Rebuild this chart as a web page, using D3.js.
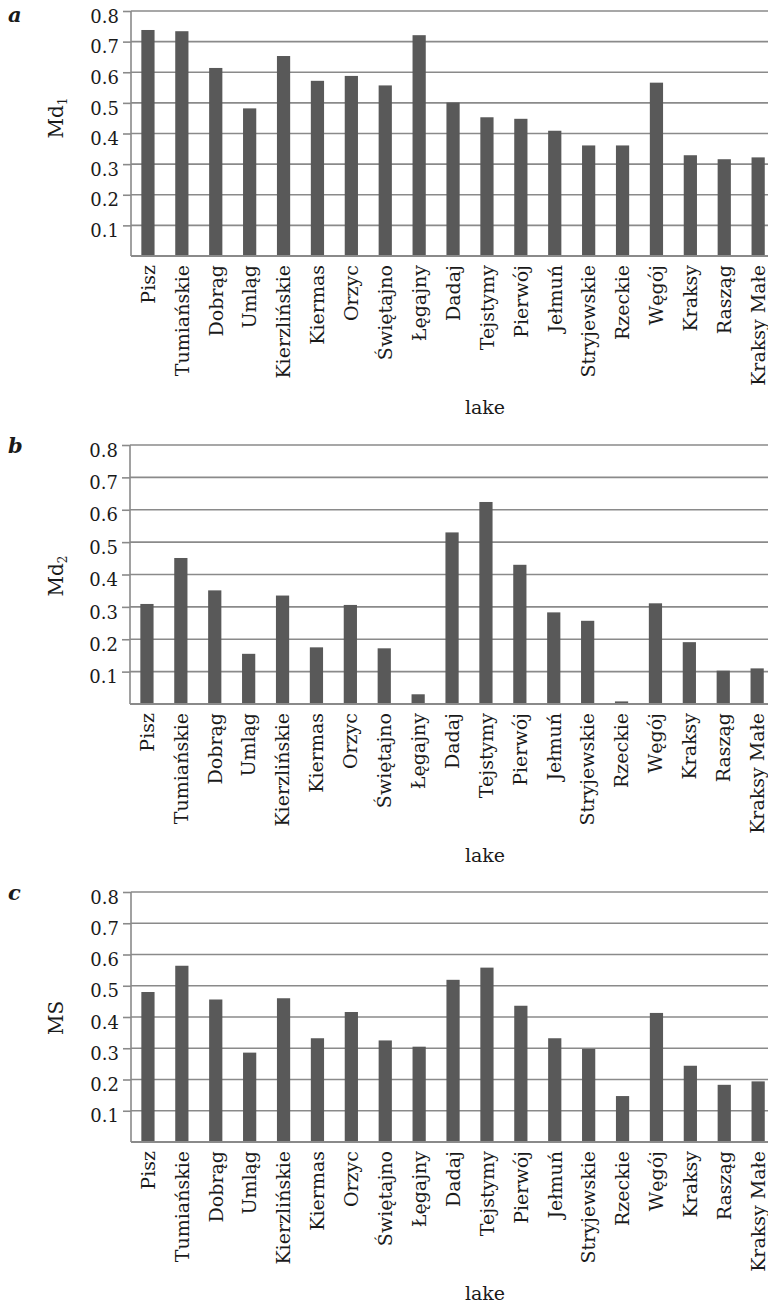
<!DOCTYPE html>
<html>
<head>
<meta http-equiv="Content-type" content="text/html; charset=utf-8">
<title>lakes</title>
<script src="https://cdn.jsdelivr.net/npm/d3@7"></script>
<style>
  body { margin:0; background:#fff; }
  text { font-family:"DejaVu Serif", serif; fill:#1a1a1a; }
</style>
</head>
<body>
<script type="text/javascript">

// lakes on the x axis (same order in all three panels)
var lakes = ["Pisz","Tumiańskie","Dobrąg","Umląg","Kierzlińskie","Kiermas","Orzyc",
  "Świętajno","Łęgajny","Dadaj","Tejstymy","Pierwój","Jełmuń","Stryjewskie",
  "Rzeckie","Węgój","Kraksy","Rasząg","Kraksy Małe"];

var md1 = [0.738,0.734,0.614,0.482,0.653,0.572,0.588,0.557,0.721,0.501,
  0.453,0.448,0.409,0.361,0.361,0.566,0.329,0.316,0.322];

var md2 = [0.309,0.451,0.351,0.155,0.335,0.175,0.306,0.172,0.030,0.530,
  0.624,0.430,0.283,0.257,0.008,0.311,0.191,0.103,0.110];

var ms = [0.480,0.564,0.456,0.286,0.460,0.332,0.416,0.325,0.305,0.519,
  0.558,0.436,0.332,0.298,0.147,0.413,0.244,0.183,0.194];

var yTicks = [0.1,0.2,0.3,0.4,0.5,0.6,0.7,0.8];

var W = 768, H = 1309;
var bar_color = "#595959";
var grid_color = "#8a8a8a";

var panels = [
  {letter:"a", title:"Md", sub:"1", vals:md1, top:11,  bottom:256,  left:131, titleY:118},
  {letter:"b", title:"Md", sub:"2", vals:md2, top:445, bottom:704,  left:130, titleY:576},
  {letter:"c", title:"MS", sub:null, vals:ms, top:892, bottom:1142, left:131, titleY:1018}
];

var svg = d3.select("body").append("svg")
  .attr("width", W).attr("height", H);

panels.forEach(function (p) {
  var x = d3.scaleBand().domain(lakes).range([p.left, p.left + 19*33.9]).paddingInner(0.61).paddingOuter(0.305);
  var y = d3.scaleLinear().domain([0, 0.8]).range([p.bottom, p.top]);
  var g = svg.append("g");

  // gridlines
  g.selectAll(".grid").data(yTicks).enter().append("line")
    .attr("x1", p.left).attr("x2", W)
    .attr("y1", function(d){return y(d);}).attr("y2", function(d){return y(d);})
    .attr("stroke", grid_color).attr("stroke-width", 1.6);

  // bars
  g.selectAll(".bar").data(p.vals).enter().append("rect")
    .attr("x", function(d,i){return x(lakes[i]);})
    .attr("width", x.bandwidth())
    .attr("y", function(d){return y(d);})
    .attr("height", function(d){return p.bottom - y(d);})
    .attr("fill", bar_color);

  // y axis
  var ax = d3.axisLeft(y).tickValues(yTicks).tickSize(8).tickPadding(4)
    .tickFormat(d3.format(".1f"));
  var ya = g.append("g").attr("transform", "translate(" + p.left + ",0)").call(ax);
  ya.select(".domain").attr("stroke", grid_color).attr("stroke-width", 1.6)
    .attr("d", "M0," + p.top + "V" + p.bottom);
  ya.selectAll(".tick line").attr("stroke", grid_color).attr("stroke-width", 1.6);
  ya.selectAll(".tick text").attr("font-size", 18).attr("fill", "#1a1a1a")
    .attr("font-family", "DejaVu Serif").attr("dy", "0.62em");

  // baseline
  g.append("line").attr("x1", p.left).attr("x2", W)
    .attr("y1", p.bottom).attr("y2", p.bottom)
    .attr("stroke", grid_color).attr("stroke-width", 2);

  // category labels
  g.selectAll(".cat").data(lakes).enter().append("text")
    .attr("transform", function(d){return "translate(" + (x(d) + x.bandwidth()/2) + "," + (p.bottom + 9) + ") rotate(-90)";})
    .attr("text-anchor", "end").attr("dy", "0.36em")
    .attr("font-size", 19)
    .text(function(d){return d;});

  // x title
  g.append("text").attr("x", 485).attr("y", p.bottom + 158)
    .attr("text-anchor", "middle").attr("font-size", 19).text("lake");

  // y title
  var t = g.append("text")
    .attr("transform", "translate(63," + p.titleY + ") rotate(-90)")
    .attr("text-anchor", "middle").attr("font-size", 20)
    .text(p.title);
  if (p.sub) t.append("tspan").attr("font-size", 12).attr("dy", "0.3em").text(p.sub);

  // panel letter
  g.append("text").attr("x", 8).attr("y", p.top + (p.letter == "a" ? 11 : 8))
    .attr("font-size", 21).attr("font-weight", "bold").attr("font-style", "italic")
    .text(p.letter);
});

</script>
</body>
</html>
